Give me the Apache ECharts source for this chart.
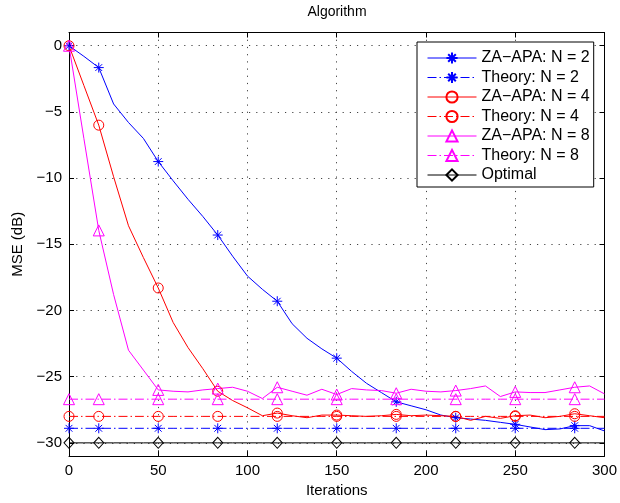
<!DOCTYPE html>
<html><head><meta charset="utf-8">
<script src="https://cdn.jsdelivr.net/npm/echarts@6/dist/echarts.min.js"></script>
<style>html,body{margin:0;padding:0;background:#fff}#c{width:620px;height:503px}</style>
</head><body><div id="c"></div>
<script>
const iterations = [0, 8.33, 16.67, 25, 33.33, 41.67, 50, 58.33, 66.67, 75, 83.33, 91.67, 100, 108.33, 116.67, 125, 133.33, 141.67, 150, 158.33, 166.67, 175, 183.33, 191.67, 200, 208.33, 216.67, 225, 233.33, 241.67, 250, 258.33, 266.67, 275, 283.33, 291.67, 300];
const markerIdx = [0, 2, 6, 10, 14, 18, 22, 26, 30, 34];
const zaN2 = [0, -0.8, -1.65, -4.4, -5.8, -7.0, -8.75, -10.2, -11.6, -12.9, -14.3, -15.9, -17.4, -18.4, -19.3, -21.0, -22.1, -22.9, -23.6, -24.6, -25.5, -26.2, -26.9, -27.2, -27.5, -27.9, -28.1, -28.2, -28.3, -28.45, -28.6, -28.8, -29.0, -28.95, -28.7, -28.7, -29.1];
const zaN4 = [0, -3.0, -6.0, -9.9, -13.6, -16.0, -18.3, -20.9, -22.8, -24.4, -26.1, -26.8, -27.35, -27.95, -27.75, -27.95, -28.1, -27.9, -27.9, -27.95, -28.0, -27.95, -27.85, -27.95, -27.9, -27.95, -28.0, -28.3, -28.0, -28.15, -27.95, -27.9, -28.1, -28.0, -27.8, -27.95, -28.1];
const zaN8 = [0, -7.0, -13.95, -18.8, -23.0, -24.5, -26.0, -26.1, -26.15, -26.0, -25.9, -25.8, -26.1, -26.65, -25.8, -26.1, -26.4, -25.95, -26.35, -25.9, -26.0, -26.05, -26.25, -25.95, -26.1, -26.15, -26.05, -25.9, -25.7, -26.5, -26.15, -26.2, -26.2, -26.0, -25.8, -25.7, -26.3];
const theoryN2 = -28.9;
const theoryN4 = -28.0;
const theoryN8 = -26.7;
const optimal = -30.0;
const xTicks = [0, 50, 100, 150, 200, 250, 300];
const yTicks = [-30, -25, -20, -15, -10, -5, 0];

const FONT = 'Liberation Sans, Arial, Helvetica, sans-serif';
const STAR = 'path://M5,0L5,10M0,5L10,5M1.6,1.6L8.4,8.4M1.6,8.4L8.4,1.6';
const DASHDOT = [9, 3, 1.5, 3];

function build(vals) {
  return iterations.map((x, i) => {
    const y = Array.isArray(vals) ? vals[i] : vals;
    return markerIdx.includes(i) ? { value: [x, y] } : { value: [x, y], symbol: 'none' };
  });
}
function mk(name, vals, color, symbol, size, dashed) {
  return {
    name, type: 'line', data: build(vals),
    symbol, symbolSize: size, showAllSymbol: true, silent: true,
    lineStyle: { color, width: 1, type: dashed ? DASHDOT : 'solid' },
    itemStyle: { color: 'rgba(0,0,0,0)', borderColor: color, borderWidth: 1 }
  };
}

const chart = echarts.init(document.getElementById('c'), null, { renderer: 'canvas' });
const fmt = v => v < 0 ? '\u2212' + (-v) : String(v);
const grid = { color: '#444', width: 1, type: [1.2, 6] };
chart.setOption({
  animation: false,
  backgroundColor: '#fff',
  textStyle: { fontFamily: FONT },
  grid: { left: 69, right: 14.5, top: 32.5, bottom: 46, containLabel: false },
  graphic: [{ type: 'text', x: 337, y: 5, style: { text: 'Algorithm', font: '14px ' + FONT, fill: '#000', textAlign: 'center' } }],
  xAxis: [{
    type: 'value', min: 0, max: 300, interval: 50,
    name: 'Iterations', nameLocation: 'middle', nameGap: 25,
    nameTextStyle: { color: '#000', fontSize: 15, fontFamily: FONT },
    axisLine: { onZero: false, lineStyle: { color: '#000', width: 1 } },
    axisTick: { inside: true, length: 5, lineStyle: { color: '#000' } },
    axisLabel: { color: '#000', fontSize: 15, fontFamily: FONT, margin: 7 },
    splitLine: { show: true, lineStyle: grid }
  }, {
    type: 'value', min: 0, max: 300, interval: 50, position: 'top',
    axisLine: { show: true, onZero: false, lineStyle: { color: '#000', width: 1 } },
    axisTick: { inside: true, length: 5, lineStyle: { color: '#000' } },
    axisLabel: { show: false }, splitLine: { show: false }
  }],
  yAxis: [{
    type: 'value', min: -31, max: 1, splitNumber: 6,
    name: 'MSE (dB)', nameLocation: 'middle', nameGap: 42,
    nameTextStyle: { color: '#000', fontSize: 15, fontFamily: FONT },
    axisLine: { show: true, onZero: false, lineStyle: { color: '#000', width: 1 } },
    axisTick: { inside: true, length: 5, lineStyle: { color: '#000' }, customValues: yTicks },
    axisLabel: { color: '#000', fontSize: 15, fontFamily: FONT, margin: 7, formatter: fmt, customValues: yTicks },
    splitLine: { show: true, lineStyle: grid }
  }, {
    type: 'value', min: -31, max: 1, splitNumber: 6, position: 'right',
    axisLine: { show: true, onZero: false, lineStyle: { color: '#000', width: 1 } },
    axisTick: { inside: true, length: 5, lineStyle: { color: '#000' }, customValues: yTicks },
    axisLabel: { show: false }, splitLine: { show: false }
  }],
  legend: {
    orient: 'vertical', left: 417, top: 42,
    padding: [8, 4, 4, 10], itemWidth: 49, itemHeight: 14, itemGap: 3.5,
    backgroundColor: '#fff', borderColor: '#000', borderWidth: 1,
    lineStyle: { width: 1 },
    textStyle: { color: '#000', fontSize: 16, fontFamily: FONT },
    data: ['ZA\u2212APA: N = 2', 'Theory: N = 2', 'ZA\u2212APA: N = 4', 'Theory: N = 4', 'ZA\u2212APA: N = 8', 'Theory: N = 8', 'Optimal']
  },
  series: [
    mk('ZA\u2212APA: N = 2', zaN2, '#0000ff', STAR, 10, false),
    mk('Theory: N = 2', theoryN2, '#0000ff', STAR, 10, true),
    mk('ZA\u2212APA: N = 4', zaN4, '#ff0000', 'circle', 10, false),
    mk('Theory: N = 4', theoryN4, '#ff0000', 'circle', 10, true),
    mk('ZA\u2212APA: N = 8', zaN8, '#ff00ff', 'triangle', 11, false),
    mk('Theory: N = 8', theoryN8, '#ff00ff', 'triangle', 11, true),
    mk('Optimal', optimal, '#000000', 'diamond', [10, 11], false)
  ]
});
</script></body></html>
